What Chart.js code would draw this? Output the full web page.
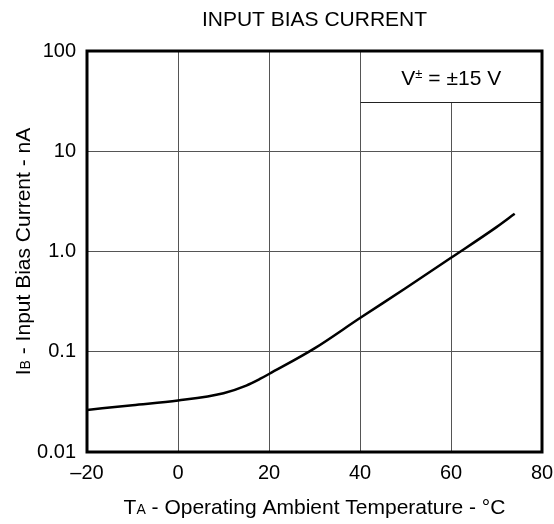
<!DOCTYPE html>
<html>
<head>
<meta charset="utf-8">
<script src="https://cdn.jsdelivr.net/npm/chart.js@4.4.1/dist/chart.umd.min.js"></script>
<style>
  html, body { margin: 0; padding: 0; background: #fff; }
  canvas { display: block; }
</style>
</head>
<body>
<canvas id="c" width="554" height="524"></canvas>
<script>
// ---- data ----
const temperatures = [-20, -10, 0, 10, 15, 18, 20, 30, 40, 50, 60, 70, 74];
const biasCurrent  = [0.0263, 0.0293, 0.0326, 0.0386, 0.046, 0.0535, 0.06, 0.108, 0.217, 0.43, 0.865, 1.75, 2.38];
const yTickValues  = [0.01, 0.1, 1, 10, 100];
const yTickLabels  = ['0.01', '0.1', '1.0', '10', '100'];
const xTickValues  = [-20, 0, 20, 40, 60, 80];
const xTickLabels  = ['\u201320', '0', '20', '40', '60', '80'];
const chartTitle   = 'INPUT BIAS CURRENT';
const legendText   = { main: 'V', sup: '\u00B1', rest: ' = \u00B115 V' };
const xTitle       = { main: 'T', sub: 'A', rest: ' - Operating Ambient Temperature - \u00B0C' };
const yTitle       = { main: 'I', sub: 'B', rest: ' - Input Bias Current - nA' };

const FONT = '"Liberation Sans", Arial, Helvetica, sans-serif';

function drawSubText(ctx, parts, cx, cy, size, subSize, subShift) {
  ctx.font = size + 'px ' + FONT;
  const w1 = ctx.measureText(parts.main).width;
  const w3 = ctx.measureText(parts.rest).width;
  ctx.font = subSize + 'px ' + FONT;
  const w2 = ctx.measureText(parts.sub).width;
  let x = cx - (w1 + w2 + w3) / 2;
  ctx.textAlign = 'left';
  ctx.textBaseline = 'alphabetic';
  const base = cy + size * 0.36;
  ctx.font = size + 'px ' + FONT;
  ctx.fillText(parts.main, x, base); x += w1;
  ctx.font = subSize + 'px ' + FONT;
  ctx.fillText(parts.sub, x, base + subShift); x += w2;
  ctx.font = size + 'px ' + FONT;
  ctx.fillText(parts.rest, x, base);
}

const decorPlugin = {
  id: 'decor',
  afterDatasetsDraw(chart) {
    const { ctx, chartArea: a, scales } = chart;
    const xs = scales.x;
    ctx.save();
    // legend box in top-right corner
    const bx = Math.round(xs.getPixelForValue(40)) + 0.5;
    const by = 102.5;
    ctx.fillStyle = '#fff';
    ctx.fillRect(bx + 0.5, a.top, a.right - bx, by - a.top);
    ctx.strokeStyle = '#222';
    ctx.lineWidth = 1;
    ctx.beginPath();
    ctx.moveTo(bx, by); ctx.lineTo(a.right, by);
    ctx.stroke();
    ctx.fillStyle = '#000';
    const cx = (bx + a.right) / 2, cy = (a.top + by) / 2 + 1;
    ctx.font = '21px ' + FONT;
    const w1 = ctx.measureText(legendText.main).width;
    const w3 = ctx.measureText(legendText.rest).width;
    ctx.font = '13px ' + FONT;
    const w2 = ctx.measureText(legendText.sup).width;
    let x = cx - (w1 + w2 + w3) / 2;
    const base = cy + 7.5;
    ctx.textAlign = 'left'; ctx.textBaseline = 'alphabetic';
    ctx.font = '21px ' + FONT; ctx.fillText(legendText.main, x, base); x += w1;
    ctx.font = '13px ' + FONT; ctx.fillText(legendText.sup, x, base - 7); x += w2;
    ctx.font = '21px ' + FONT; ctx.fillText(legendText.rest, x, base);
    // frame
    ctx.strokeStyle = '#000';
    ctx.lineWidth = 3;
    ctx.strokeRect(a.left, a.top, a.right - a.left, a.bottom - a.top);
    ctx.restore();
  },
  afterDraw(chart) {
    const { ctx, chartArea: a } = chart;
    ctx.save();
    ctx.fillStyle = '#000';
    const midX = (a.left + a.right) / 2;
    ctx.font = '21px ' + FONT;
    ctx.textAlign = 'center'; ctx.textBaseline = 'middle';
    ctx.fillText(chartTitle, midX, 20);
    drawSubText(ctx, xTitle, midX, 506, 21, 14, 0);
    ctx.translate(22, (a.top + a.bottom) / 2);
    ctx.rotate(-Math.PI / 2);
    drawSubText(ctx, yTitle, 0, 0, 21, 14, 0);
    ctx.restore();
  }
};

new Chart(document.getElementById('c'), {
  type: 'line',
  data: {
    datasets: [{
      data: temperatures.map((t, i) => ({ x: t, y: biasCurrent[i] })),
      borderColor: '#000',
      borderWidth: 2.5,
      pointRadius: 0,
      fill: false,
      cubicInterpolationMode: 'monotone'
    }]
  },
  options: {
    responsive: false,
    devicePixelRatio: 1,
    animation: false,
    layout: { padding: { top: 51, right: 12, left: 0, bottom: 0 } },
    plugins: { legend: { display: false }, title: { display: false }, tooltip: { enabled: false } },
    scales: {
      x: {
        type: 'linear',
        min: -20, max: 80,
        afterFit(s) { s.height = 72; s.paddingLeft = 0; s.paddingRight = 0; },
        afterBuildTicks(s) { s.ticks = xTickValues.map(v => ({ value: v })); },
        ticks: {
          padding: 9,
          color: '#000',
          font: { size: 20, family: FONT },
          maxRotation: 0,
          callback(v) { const i = xTickValues.indexOf(v); return i >= 0 ? xTickLabels[i] : ''; }
        },
        grid: { color: '#555', lineWidth: 1, drawTicks: false },
        border: { display: false }
      },
      y: {
        type: 'logarithmic',
        min: 0.01, max: 100,
        afterFit(s) { s.width = 87; s.paddingTop = 0; s.paddingBottom = 0; },
        afterBuildTicks(s) { s.ticks = yTickValues.map(v => ({ value: v })); },
        ticks: {
          padding: 11,
          color: '#000',
          font: { size: 20, family: FONT },
          callback(v) { const i = yTickValues.indexOf(v); return i >= 0 ? yTickLabels[i] : ''; }
        },
        grid: { color: '#555', lineWidth: 1, drawTicks: false },
        border: { display: false }
      }
    }
  },
  plugins: [decorPlugin]
});
</script>
</body>
</html>
